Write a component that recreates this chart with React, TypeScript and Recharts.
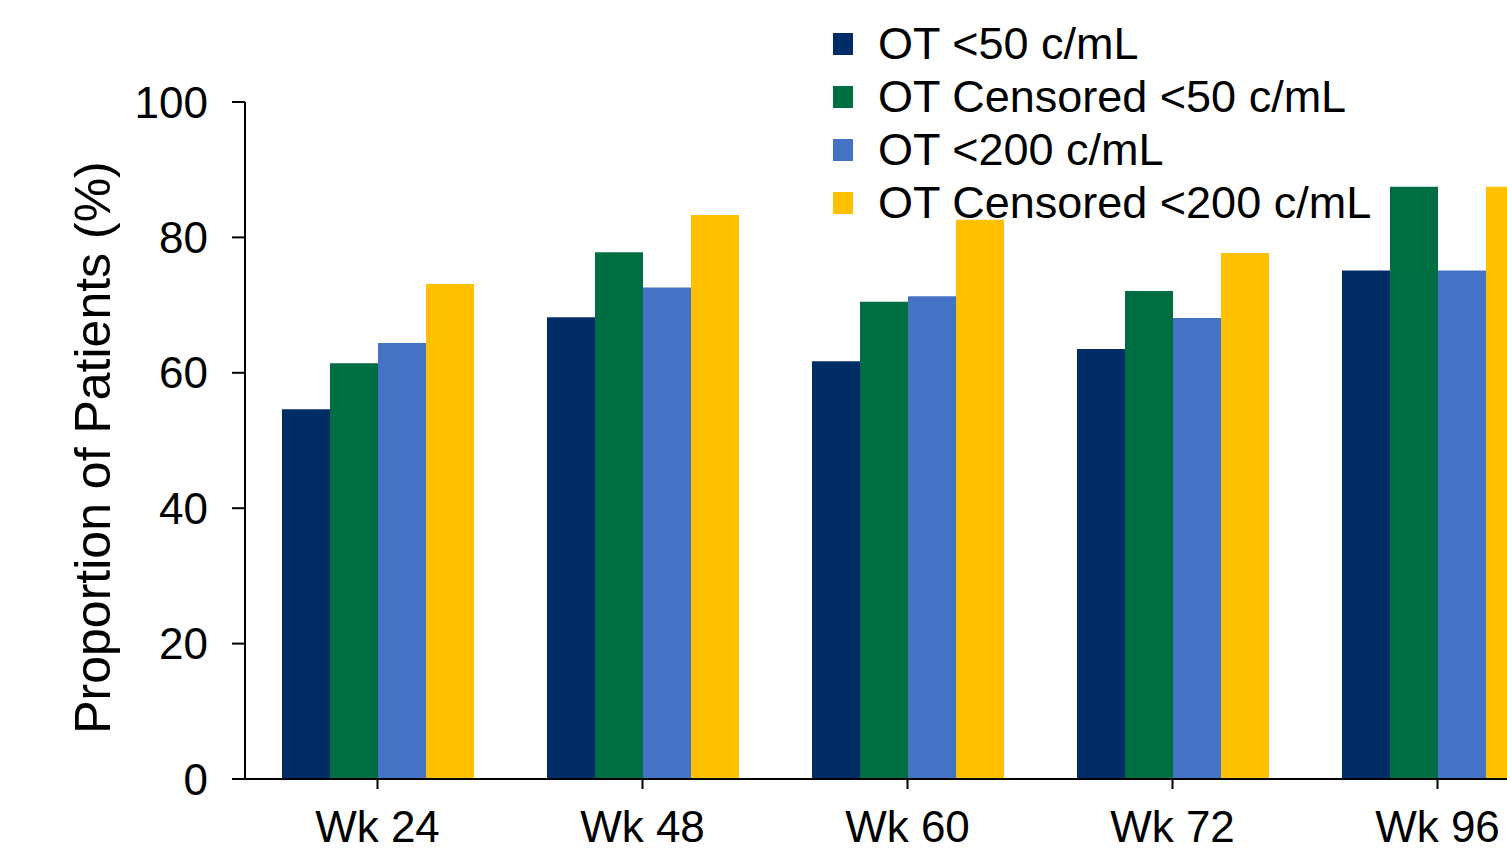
import React from 'react';
import { BarChart, Bar, XAxis, YAxis, Legend } from 'recharts';

const weeks = ['Wk 24', 'Wk 48', 'Wk 60', 'Wk 72', 'Wk 96'];
const ot50 = [54.6, 68.2, 61.7, 63.5, 75.1];
const otCens50 = [61.4, 77.8, 70.5, 72.1, 87.5];
const ot200 = [64.4, 72.6, 71.3, 68.1, 75.1];
const otCens200 = [73.1, 83.3, 82.6, 77.7, 87.5];
const yTicks = [0, 20, 40, 60, 80, 100];

const seriesNames = ['OT <50 c/mL', 'OT Censored <50 c/mL', 'OT <200 c/mL', 'OT Censored <200 c/mL'];
const seriesColors = ['#002D66', '#006E43', '#4472C4', '#FFC000'];

const data = weeks.map((w, i) => ({
  week: w,
  s0: ot50[i],
  s1: otCens50[i],
  s2: ot200[i],
  s3: otCens200[i],
}));

const FONT = '"Liberation Sans", Arial, sans-serif';

// legend keeps the series order, not the sorted payload
const renderLegend = () => (
  <div style={{ fontFamily: FONT, fontSize: 45, color: '#000' }}>
    {seriesNames.map((name, i) => (
      <div key={name} style={{ height: 53, lineHeight: '53px', display: 'flex', alignItems: 'center', whiteSpace: 'nowrap' }}>
        <span style={{ display: 'inline-block', width: 20, height: 22, background: seriesColors[i], marginRight: 25 }} />
        <span>{name}</span>
      </div>
    ))}
  </div>
);

export default function App() {
  return (
    <div style={{ position: 'fixed', left: 0, top: 0, width: 1507, height: 850, overflow: 'hidden', background: '#fff' }}>
      <BarChart
        width={1570}
        height={850}
        data={data}
        margin={{ top: 102, right: 0, bottom: 0, left: 0 }}
        barGap={0}
        barSize={48}
      >
        <XAxis
          dataKey="week"
          height={71}
          axisLine={{ stroke: '#000', strokeWidth: 2 }}
          tickLine={{ stroke: '#000', strokeWidth: 2 }}
          tickSize={10}
          tickMargin={22}
          tick={{ fill: '#000', fontSize: 44, fontFamily: FONT }}
        />
        <YAxis
          width={245}
          domain={[0, 100]}
          ticks={yTicks}
          interval={0}
          axisLine={{ stroke: '#000', strokeWidth: 2 }}
          tickLine={{ stroke: '#000', strokeWidth: 2 }}
          tickSize={13}
          tickMargin={24}
          tick={{ fill: '#000', fontSize: 44, fontFamily: FONT }}
          label={{
            value: 'Proportion of Patients (%)',
            angle: -90,
            position: 'center',
            dx: -30,
            dy: 7,
            style: { fill: '#000', fontSize: 50, fontFamily: FONT },
          }}
        />
        <Legend
          layout="vertical"
          align="center"
          verticalAlign="middle"
          content={renderLegend}
          wrapperStyle={{ left: 833, top: 17, width: 640, height: 212 }}
        />
        {seriesNames.map((name, i) => (
          <Bar key={name} dataKey={`s${i}`} name={name} fill={seriesColors[i]} isAnimationActive={false} />
        ))}
      </BarChart>
    </div>
  );
}
